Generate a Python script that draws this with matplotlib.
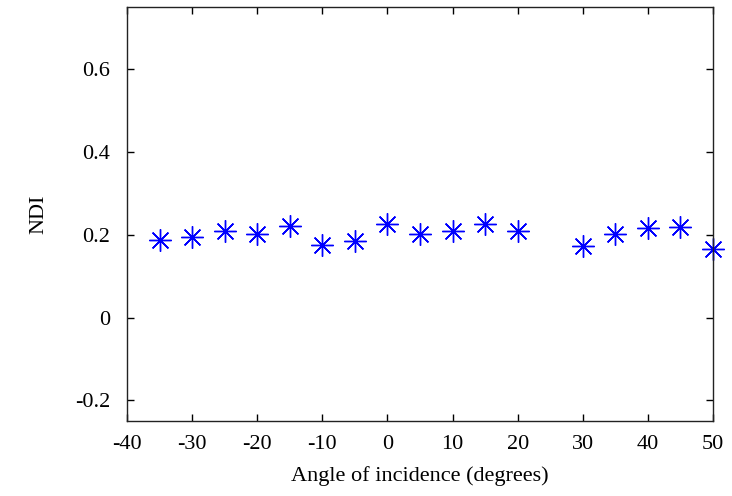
import matplotlib
matplotlib.use("Agg")
import matplotlib.pyplot as plt

plt.rcParams['font.family'] = ['Liberation Serif', 'DejaVu Serif']

angle = [-35, -30, -25, -20, -15, -10, -5, 0, 5, 10, 15, 20, 30, 35, 40, 45, 50]
ndi = [0.188, 0.195, 0.208, 0.202, 0.220, 0.176, 0.184, 0.226, 0.202, 0.208,
       0.226, 0.208, 0.172, 0.201, 0.216, 0.219, 0.165]
xticks = [-40, -30, -20, -10, 0, 10, 20, 30, 40, 50]
yticks = [-0.2, 0, 0.2, 0.4, 0.6]
ytick_labels = ['-0.2', '0', '0.2', '0.4', '0.6']

fig = plt.figure(figsize=(7.32, 4.96), dpi=100)
ax = fig.add_axes([0.1735, 0.151, 0.8005, 0.835])

ax.plot(angle, ndi, linestyle='none', marker=(8, 2, 0), markersize=16,
        markeredgewidth=1.0, color='#0000ff', clip_on=False)

ax.set_xlim(-40, 50)
ax.set_ylim(-0.25, 0.75)
ax.set_xticks(xticks)
ax.set_xticklabels([str(v) for v in xticks])
ax.set_yticks(yticks)
ax.set_yticklabels(ytick_labels)

ax.tick_params(direction='in', top=True, right=True, length=5, width=1,
               labelsize=16)
ax.tick_params(axis='y', pad=12)
ax.tick_params(axis='x', pad=10)
for s in ax.spines.values():
    s.set_linewidth(1.0)
    s.set_color('#222222')

ax.set_xlabel('Angle of incidence (degrees)', fontsize=16, labelpad=9)
ax.set_ylabel('NDI', fontsize=16, labelpad=19)

fig.savefig('out.png', dpi=100)
